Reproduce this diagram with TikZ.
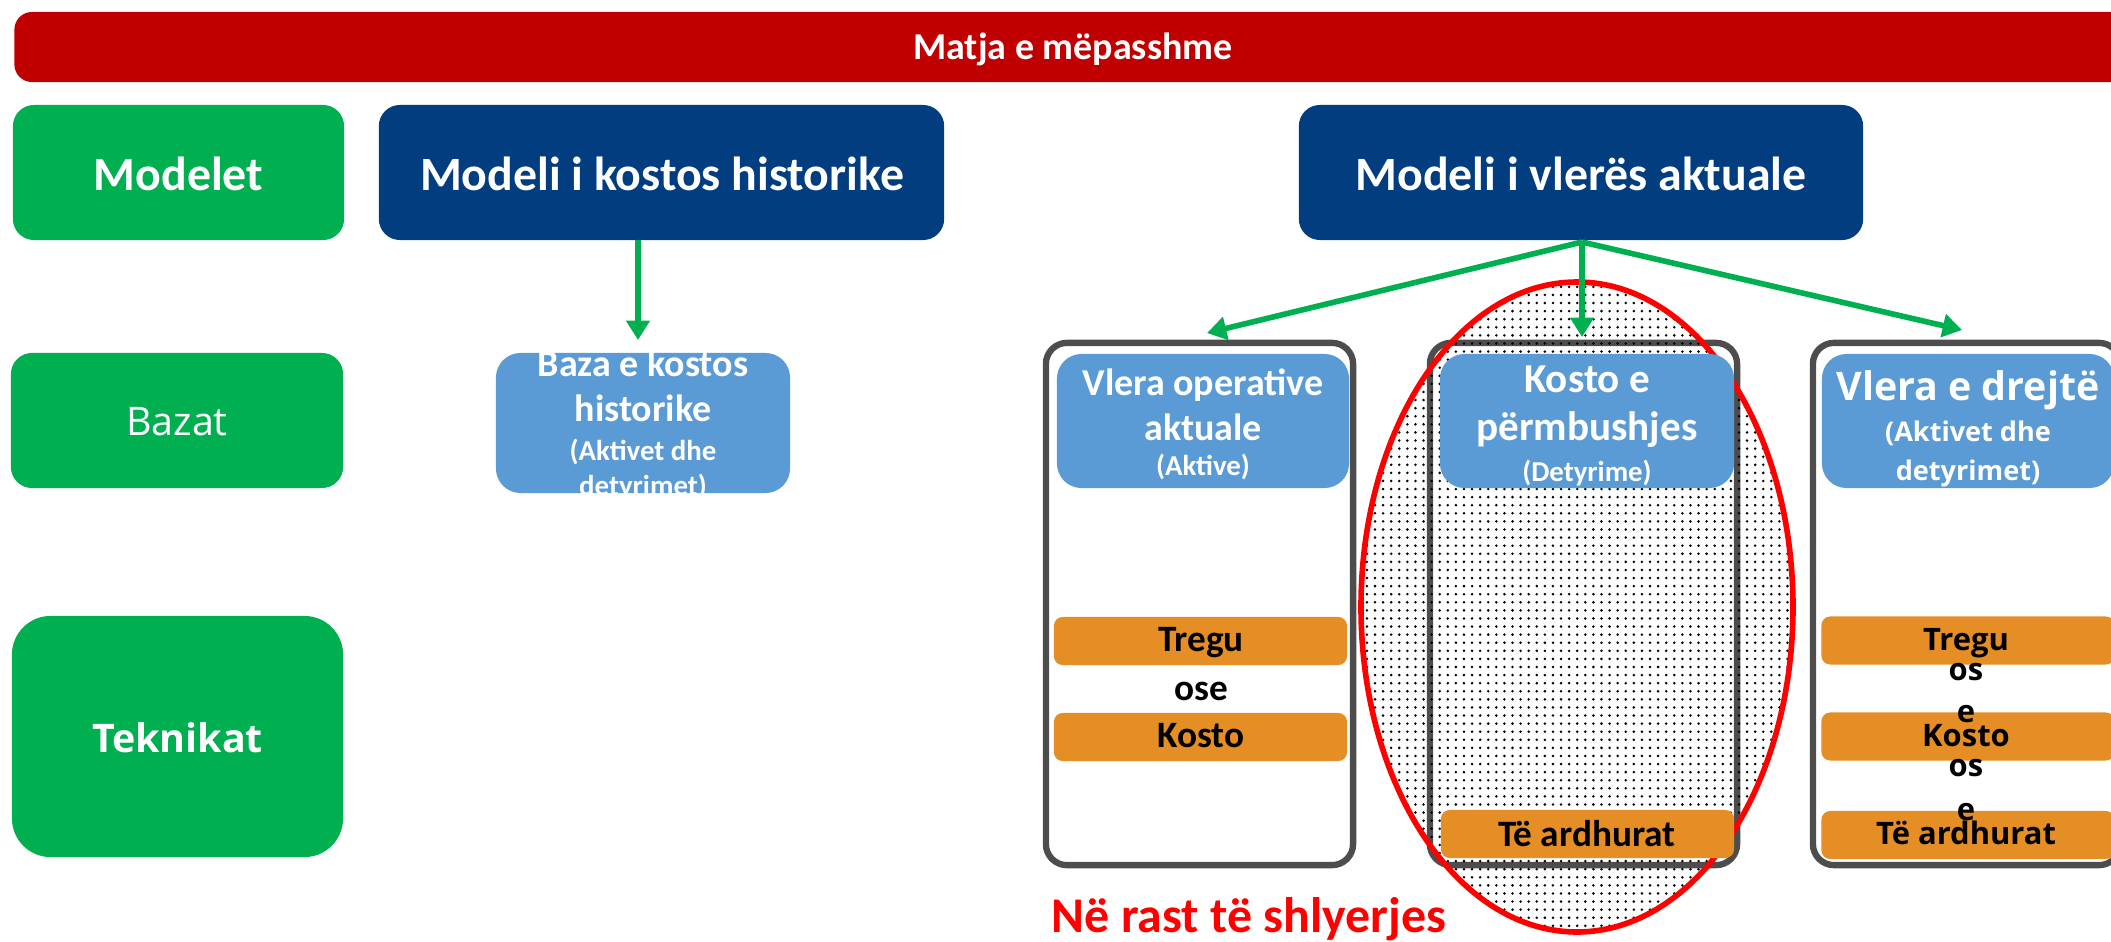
\documentclass[tikz,border=0pt]{standalone}
\usepackage{fontspec}
\setmainfont{Carlito}
\newfontfamily\osans{Open Sans}
\usetikzlibrary{arrows.meta,patterns.meta,calc}
\definecolor{bannerred}{RGB}{192,0,0}
\definecolor{ggreen}{RGB}{0,176,80}
\definecolor{dblue}{RGB}{2,61,128}
\definecolor{lblue}{RGB}{91,155,213}
\definecolor{orng}{RGB}{229,142,38}
\definecolor{pgray}{RGB}{77,77,77}
\definecolor{ered}{RGB}{255,0,0}
\begin{document}
\begin{tikzpicture}[x=0.01cm,y=-0.01cm,
  box/.style={inner sep=0pt, outer sep=0pt},
  greenbox/.style={box, fill=ggreen, rounded corners=6pt},
  darkbox/.style={box, fill=dblue, rounded corners=6pt},
  lightbox/.style={box, fill=lblue, rounded corners=7pt},
  orangebox/.style={box, fill=orng, rounded corners=2.5pt, minimum width=2.93cm, minimum height=0.48cm},
  panel/.style={box, draw=pgray, line width=1.8pt, rounded corners=6pt, minimum width=3.07cm, minimum height=5.22cm},
  txt/.style={inner sep=0pt, anchor=mid},
  wtxt/.style={txt, text=white},
  btxt/.style={txt, text=black},
  garrow/.style={draw=ggreen, line width=1.6pt, -{Triangle[length=5.5pt, width=6.5pt]}},
  cbig/.style={font=\fontsize{13.6}{15}\selectfont\bfseries, yshift=-3pt},
  cmed/.style={font=\fontsize{10.8}{12}\selectfont\bfseries, yshift=-1.3pt},
  ckos/.style={font=\fontsize{11.7}{14}\selectfont\bfseries, yshift=-1.3pt},
  csmall/.style={font=\fontsize{8.2}{10}\selectfont\bfseries},
  corng/.style={font=\fontsize{10.6}{12}\selectfont\bfseries, yshift=-0.6pt},
  obig/.style={font=\osans\fontsize{11.2}{14}\selectfont\bfseries, yshift=-2pt},
  osmall/.style={font=\osans\fontsize{7.7}{9}\selectfont\bfseries, yshift=-0.5pt},
  oorng/.style={font=\osans\fontsize{8.8}{10}\selectfont\bfseries}
]
\useasboundingbox (0,0) rectangle (2111,942);
\clip (0,0) rectangle (2111,942);

% banner
\node[box, fill=bannerred, rounded corners=5pt, minimum width=21.2cm, minimum height=0.70cm] (banner) at (1075,47) {};
\node[wtxt, cmed] (bannertxt) at (1073,47) {Matja e mëpasshme};

% left column
\node[greenbox, minimum width=3.31cm, minimum height=1.35cm] (modelet) at (178.5,172.5) {};
\node[wtxt, cbig] (modelettxt) at (178.5,172) {Modelet};
\node[greenbox, minimum width=3.32cm, minimum height=1.35cm] (bazat) at (177,420.5) {};
\node[wtxt, font=\osans\fontsize{11.2}{13}\selectfont, yshift=-2pt] (bazattxt) at (177,420) {Bazat};
\node[greenbox, rounded corners=11pt, minimum width=3.31cm, minimum height=2.41cm] (teknikat) at (177.5,736.5) {};
\node[wtxt, obig] (teknikattxt) at (177.5,737) {Teknikat};

% models
\node[darkbox, minimum width=5.65cm, minimum height=1.35cm] (mkostos) at (661.5,172.5) {};
\node[wtxt, cbig] (mkostostxt) at (662,172) {Modeli i kostos historike};
\node[darkbox, minimum width=5.64cm, minimum height=1.35cm] (mvleres) at (1581,172.5) {};
\node[wtxt, cbig] (mvlerestxt) at (1581,172) {Modeli i vlerës aktuale};

% baza e kostos historike
\node[lightbox, minimum width=2.94cm, minimum height=1.40cm] (baza) at (643,423) {};
\node[wtxt, cmed, yshift=1pt] (baza1) at (643,367) {Baza e kostos};
\node[wtxt, cmed, yshift=1pt] (baza2) at (643,412) {historike};
\node[wtxt, csmall] (baza3) at (643,452) {(Aktivet dhe};
\node[wtxt, csmall] (baza4) at (643,487) {detyrimet)};

% panels
\node[panel] (pleft) at (1199.5,604) {};
\node[panel] (pmid) at (1583.5,604) {};
\node[panel] (pright) at (1966.5,604) {};

% ellipse with dots
\path[pattern={Dots[radius=0.4pt, distance=2.3pt]}, pattern color=black] (1577,607) ellipse [x radius=216, y radius=325];
\draw[ered, line width=1.6pt] (1577,607) ellipse [x radius=216, y radius=325];
\node[txt, inner sep=0pt] (ell) at (1577,607) {};

% light boxes in panels
\node[lightbox, minimum width=2.92cm, minimum height=1.34cm] (vop) at (1203,421) {};
\node[wtxt, cmed] (vop1) at (1203,383) {Vlera operative};
\node[wtxt, cmed] (vop2) at (1203,428) {aktuale};
\node[wtxt, csmall] (vop3) at (1203,467) {(Aktive)};

\node[lightbox, minimum width=2.94cm, minimum height=1.34cm] (kp) at (1587,421) {};
\node[wtxt, ckos] (kp1) at (1587,380) {Kosto e};
\node[wtxt, ckos] (kp2) at (1587,428) {përmbushjes};
\node[wtxt, csmall] (kp3) at (1587,473) {(Detyrime)};

\node[lightbox, minimum width=2.92cm, minimum height=1.34cm] (vd) at (1968,421) {};
\node[wtxt, obig] (vd1) at (1968,385) {Vlera e drejtë};
\node[wtxt, osmall] (vd2) at (1968,431) {(Aktivet dhe};
\node[wtxt, osmall] (vd3) at (1968,470) {detyrimet)};

% orange boxes
\node[orangebox] (otl) at (1200.5,641) {};
\node[btxt, corng] (otltxt) at (1201,641) {Tregu};
\node[btxt, corng] (osel) at (1201,690) {ose};
\node[orangebox] (okl) at (1200.5,737) {};
\node[btxt, corng] (okltxt) at (1201,737) {Kosto};

\node[orangebox] (oam) at (1587.5,834) {};
\node[btxt, corng] (oamtxt) at (1587,836) {Të ardhurat};

\node[orangebox] (otr) at (1968,640.5) {};
\node[orangebox] (okr) at (1968,736.5) {};
\node[orangebox] (oar) at (1968,835) {};
\node[btxt, oorng] (otrtxt) at (1966,642) {Tregu};
\node[btxt, oorng] (osr1) at (1966,672) {os};
\node[btxt, oorng] (osr2) at (1966,714) {e};
\node[btxt, oorng] (okrtxt) at (1966,738) {Kosto};
\node[btxt, oorng] (osr3) at (1966,768) {os};
\node[btxt, oorng] (osr4) at (1966,812) {e};
\node[btxt, oorng] (oartxt) at (1966,836) {Të ardhurat};

% note
\node[txt, text=ered, font=\fontsize{14.2}{16}\selectfont\bfseries, yshift=-1pt] (note) at (1249,921) {Në rast të shlyerjes};

% arrows
\coordinate (kt) at (638,340);
\draw[garrow] (mkostos.south -| kt) -- (kt);
\coordinate (vtop) at (1582,242);
\coordinate (tl) at (1207,333);
\coordinate (tm) at (1582,337);
\coordinate (tr) at (1962,330);
\draw[garrow] (vtop) -- (tl);
\draw[garrow] (vtop) -- (tm);
\draw[garrow] (vtop) -- (tr);
\end{tikzpicture}
\end{document}
